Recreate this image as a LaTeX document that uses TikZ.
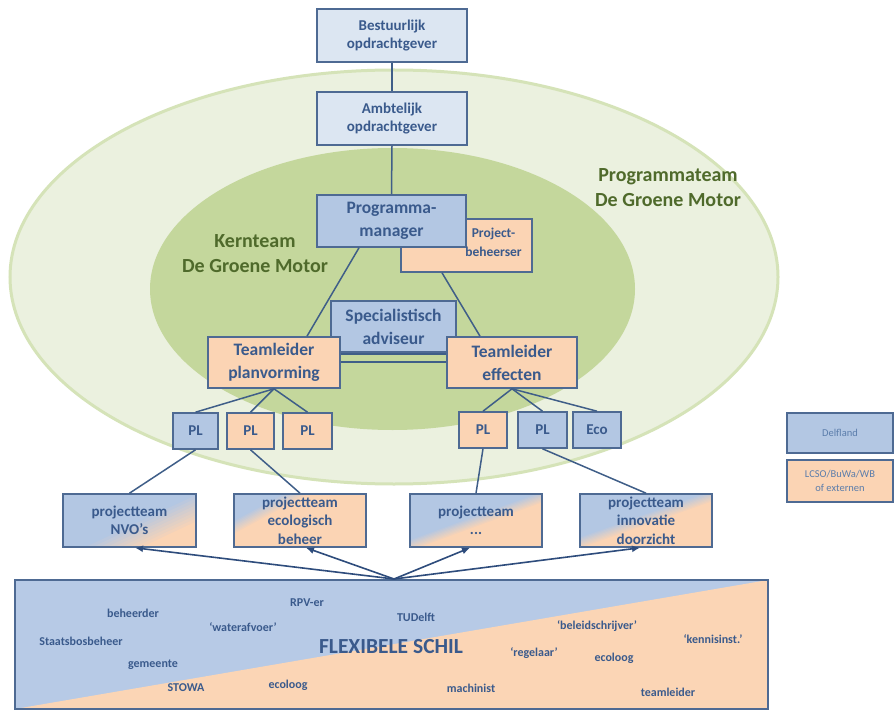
\documentclass[tikz,border=0pt]{standalone}
\usepackage{fontspec}
\setmainfont{Carlito}
\usetikzlibrary{arrows.meta,calc}
\definecolor{bluL}{HTML}{DCE6F2}
\definecolor{bluM}{HTML}{B3C7E3}
\definecolor{peach}{HTML}{FBD4B4}
\definecolor{bordc}{HTML}{4E6A93}
\definecolor{txtc}{HTML}{3A5A8C}
\definecolor{linec}{HTML}{3F5E88}
\definecolor{arrc}{HTML}{2E4C7C}
\definecolor{outerG}{HTML}{EBF1DF}
\definecolor{outerR}{HTML}{D5E3B8}
\definecolor{innerG}{HTML}{C4D79C}
\definecolor{greenT}{HTML}{4F6A2B}
\definecolor{legT}{HTML}{5B7DAB}
\definecolor{flexB}{HTML}{B7CAE6}
\definecolor{flexP}{HTML}{FBD5B5}
\newcommand\fsA{\fontsize{15}{18.5}\selectfont\bfseries}
\newcommand\fsB{\fontsize{17.5}{23}\selectfont\bfseries}
\newcommand\fsC{\fontsize{13.5}{19}\selectfont\bfseries}
\newcommand\fsD{\fontsize{20}{25}\selectfont\bfseries}
\newcommand\fsE{\fontsize{12}{14}\selectfont\bfseries}
\newcommand\fsF{\fontsize{21.5}{26}\selectfont\bfseries}
\newcommand\fsG{\fontsize{10.5}{14}\selectfont}
\tikzset{
  box/.style={draw=bordc, line width=1.6pt, inner sep=0pt, align=center, text=txtc},
  lbox/.style={box, fill=bluL, font=\fsA, minimum width=150pt, minimum height=53pt},
  mbox/.style={box, fill=bluM, font=\fsB},
  pbox/.style={box, fill=peach, font=\fsB},
  plb/.style={box, fill=bluM, font=\fsA, minimum height=36pt},
  plp/.style={box, fill=peach, font=\fsA, minimum height=36pt},
  ptbox/.style={box, font=\fsA, minimum width=132pt, minimum height=53pt},
  ptsplit/.style n args={3}{path picture={
    \fill[bluM] (path picture bounding box.south west) rectangle (path picture bounding box.north east);
    \foreach \k in {0,...,8}{
      \pgfmathsetmacro\aa{#1+#3*(\k/4-1)}
      \pgfmathsetmacro\bb{#2+#3*(\k/4-1)}
      \pgfmathtruncatemacro\mx{(\k+1)*100/9}
      \fill[peach!\mx!bluM] ($(path picture bounding box.north west)!\aa!(path picture bounding box.south west)$)
        -- ($(path picture bounding box.north east)!\bb!(path picture bounding box.south east)$)
        -- ($(path picture bounding box.north east)!3!(path picture bounding box.south east)$)
        -- ($(path picture bounding box.north west)!3!(path picture bounding box.south west)$) -- cycle;
    }}},
  conn/.style={draw=linec, line width=1.5pt},
  arr/.style={draw=arrc, line width=1.6pt, -{Latex[length=8pt,width=7pt]}},
  team/.style={align=center, text=greenT, font=\fsD, inner sep=0pt},
  flext/.style={text=txtc, font=\fsE, inner sep=0pt},
  legbox/.style={box, font=\fsG, text=legT, minimum width=106pt, line width=1.5pt}
}
\begin{document}
\begin{tikzpicture}[x=1pt,y=-1pt]
\useasboundingbox (0,0) rectangle (896,711);
\fill[white] (0,0) rectangle (896,711);
% ellipses
\draw[fill=outerG, draw=outerR, line width=3pt] (394,277) ellipse [x radius=384, y radius=207];
\fill[innerG] (392.5,289) ellipse [x radius=242.5, y radius=141];
% team labels
\node[team] (kern) at (255,254) {Kernteam\\De Groene Motor};
\node[team] (prog) at (668,188) {Programmateam\\De Groene Motor};
% top boxes
\node[lbox] (best) at (392,35.5) {Bestuurlijk\\opdrachtgever};
\node[lbox] (amb) at (392,118.5) {Ambtelijk\\opdrachtgever};
% kernteam boxes
\node[box, fill=peach, minimum width=131pt, minimum height=53pt] (pb) at (466.5,245.5) {};
\node[mbox, minimum width=149pt, minimum height=52pt] (pm) at (391.5,221) {Programma-\\manager};
\node[box, draw=none, font=\fsC] (pbt) at ($(pb.center)+(27,-3)$) {Project-\\beheerser};
\node[mbox, minimum width=125pt, minimum height=51pt] (spec) at (393.5,326.5) {Specialistisch\\adviseur};
\node[pbox, minimum width=132pt, minimum height=51pt] (tlp) at (274,362.5) {Teamleider\\planvorming};
\node[pbox, minimum width=130pt, minimum height=51pt] (tle) at (512,362.5) {Teamleider\\effecten};
% PL row
\node[plb, minimum width=45pt] (pl1) at (195.5,431) {PL};
\node[plp, minimum width=47pt] (pl2) at (250.5,431) {PL};
\node[plp, minimum width=49pt] (pl3) at (307.5,431) {PL};
\node[plp, minimum width=48pt] (pl4) at (483,430) {PL};
\node[plb, minimum width=49pt] (pl5) at (542.5,430) {PL};
\node[plb, minimum width=48pt] (eco) at (597,430) {Eco};
% projectteams
\node[ptbox, minimum width=133pt, ptsplit={1.45}{0.27}{0.25}] (pt1) at (129.5,520.5) {projectteam\\NVO’s};
\node[ptbox, ptsplit={0.63}{-0.71}{0.12}] (pt2) at (300,520.5) {projectteam\\ecologisch\\beheer};
\node[ptbox, ptsplit={0.97}{0.06}{0.1}] (pt3) at (476,520.5) {projectteam\\...};
\node[ptbox, ptsplit={0.92}{0.04}{0.1}] (pt4) at (646,520.5) {projectteam\\innovatie\\doorzicht};
% legend
\node[legbox, fill=bluM, minimum height=40pt] (leg1) at (840,433) {Delfland};
\node[legbox, fill=peach, minimum height=42pt] (leg2) at (840,481) {LCSO/BuWa/WB\\of externen};
% flexibele schil
\node[box, line width=1.3pt, minimum width=753pt, minimum height=129pt, path picture={
  \fill[flexB] (path picture bounding box.south west) rectangle (path picture bounding box.north east);
  \fill[flexP] (path picture bounding box.south west) -- (path picture bounding box.north east) -- (path picture bounding box.south east) -- cycle;}]
  (flex) at (391.5,644.5) {};
\node[flext] (f1) at (133,613) {beheerder};
\node[flext] (f2) at (243,627) {‘waterafvoer’};
\node[flext] (f3) at (307,603) {RPV-er};
\node[flext] (f4) at (416,617) {TUDelft};
\node[flext] (f5) at (81,641) {Staatsbosbeheer};
\node[flext, font=\fsF] (f6) at (391,647) {FLEXIBELE SCHIL};
\node[flext] (f7) at (153,665) {gemeente};
\node[flext] (f8) at (186,688) {STOWA};
\node[flext] (f9) at (288,685) {ecoloog};
\node[flext] (f10) at (471,688) {machinist};
\node[flext] (f11) at (597,626) {‘beleidschrijver’};
\node[flext] (f12) at (713,639) {‘kennisinst.’};
\node[flext] (f13) at (534,653) {‘regelaar’};
\node[flext] (f14) at (614,658) {ecoloog};
\node[flext] (f15) at (668,692) {teamleider};
\coordinate (apex) at (394,579);
% connectors
\draw[conn] (best.south) -- (amb.north);
\draw[conn] (amb.south) -- (pm.north);
\draw[conn] ([xshift=-32.5pt]pm.south) -- ([xshift=33pt]tlp.north);
\draw[conn] ([xshift=-24.5pt]pb.south) -- ([xshift=-32pt]tle.north);
\draw[conn] ([yshift=8.5pt]tlp.east) -- ([yshift=8.5pt]tle.west);
\draw[conn] ([yshift=0.5pt]tlp.east) -- ([yshift=0.5pt]tle.west);
\draw[conn] (tlp.south) -- (pl1.north);
\draw[conn] (tlp.south) -- (pl2.north);
\draw[conn] (tlp.south) -- (pl3.north);
\draw[conn] (tle.south) -- (pl4.north);
\draw[conn] (tle.south) -- (pl5.north);
\draw[conn] (tle.south) -- (eco.north);
\draw[conn] (pl1.south) -- (pt1.north);
\draw[conn] (pl2.south) -- (pt2.north);
\draw[conn] (pl4.south) -- (pt3.north);
\draw[conn] (pl5.south) -- (pt4.north);
\draw[arr] (apex) -- ([xshift=5.5pt]pt1.south);
\draw[arr] (apex) -- ([xshift=6pt]pt2.south);
\draw[arr] (apex) -- ([xshift=-6pt]pt3.south);
\draw[arr] (apex) -- ([xshift=-6pt]pt4.south);
\end{tikzpicture}
\end{document}
